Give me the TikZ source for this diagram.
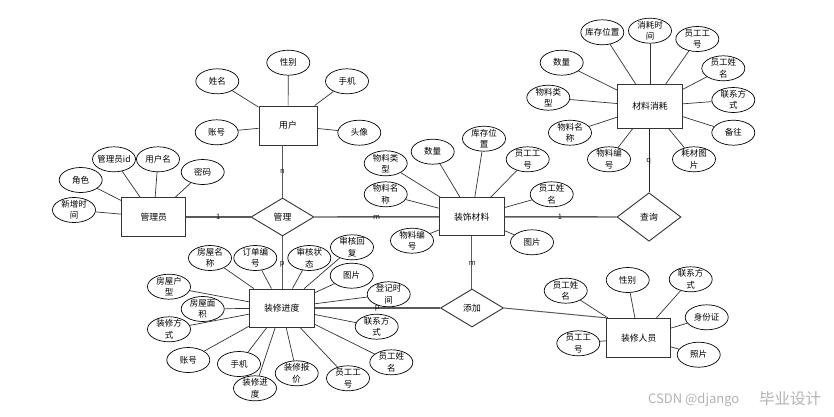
\documentclass[tikz,border=0pt]{standalone}
\usepackage{fontspec}
\setmainfont{Noto Sans CJK SC}
\usetikzlibrary{shapes.geometric}
\begin{document}
\begin{tikzpicture}[x=1pt,y=-1pt,
  ent/.style={draw=black!80, line width=0.9pt, fill=white, minimum width=64pt, minimum height=39pt, inner sep=0pt, font=\fontsize{8.8}{10}\selectfont},
  rel/.style={diamond, draw=black!80, line width=0.9pt, fill=white, minimum width=63pt, minimum height=38pt, inner sep=0pt, font=\fontsize{8.8}{10}\selectfont},
  attr/.style={ellipse, draw=black, line width=0.7pt, fill=white, minimum width=43pt, minimum height=25pt, inner sep=0pt, label={[atxt]center:#1}},
  atxt/.style={align=center, inner sep=0pt, font=\fontsize{8.5}{11.3}\selectfont},
  al/.style={draw=black!80, line width=0.7pt},
  cl/.style={draw=black!65, line width=1.4pt},
  card/.style={font=\fontsize{7.5}{7.5}\selectfont, inner sep=0pt, text=black!90},
  wm/.style={inner sep=0pt, text=black!30}
]
\useasboundingbox (0,0) rectangle (834,416);

% entities
\node[ent, minimum width=58pt] (U) at (288,125.5) {用户};
\node[ent] (A) at (153.7,217) {管理员};
\node[ent, minimum width=65pt, minimum height=38pt] (M) at (471.7,216.8) {装饰材料};
\node[ent, minimum width=65pt, minimum height=44pt] (C) at (650,106.3) {材料消耗};
\node[ent, minimum width=65pt, minimum height=38pt] (P) at (281.7,308) {装修进度};
\node[ent] (W) at (638.7,337.8) {装修人员};

% relations
\node[rel] (R1) at (282.5,217) {管理};
\node[rel, minimum width=64pt, minimum height=48.5pt] (R2) at (649,217) {查询};
\node[rel] (R3) at (472,308) {添加};

% relation connectors
\draw[cl] (A) -- (R1);
\draw[cl] (R1) -- (M);
\draw[cl] (R1.north) -- (R1.north |- U.south);
\draw[cl] (R1.south) -- (R1.south |- P.north);
\draw[cl] (M) -- (R2);
\draw[cl, draw=black!85, line width=0.9pt] (R2.north) -- (R2.north |- C.south);
\draw[cl] (M.south) -- (M.south |- R3.north);
\draw[cl] (P) -- (R3);
\draw[cl, line width=1pt] (R3.east) -- (W.north west);

% cardinalities
\node[card] (k1) at (282.3,171.7) {n};
\node[card] (k2) at (218.3,216.7) {1};
\node[card] (k3) at (376.7,217.3) {m};
\node[card] (k4) at (282.3,264.3) {p};
\node[card] (k5) at (560,217.3) {1};
\node[card] (k6) at (648.7,161.7) {q};
\node[card] (k7) at (472.3,263.3) {m};
\node[card] (k8) at (377.3,308.3) {p};

% 用户 attributes
\node[attr={姓名}] (u1) at (217.3,81.3) {};
\node[attr={性别}] (u2) at (288.3,62.7) {};
\node[attr={手机}] (u3) at (347,81.3) {};
\node[attr={账号}] (u4) at (216.7,132.3) {};
\node[attr={头像}] (u5) at (359.3,132.7) {};
\foreach \i in {1,...,5} \draw[al] (u\i) -- (U);

% 管理员 attributes
\node[attr={管理员id}] (a1) at (114,159.3) {};
\node[attr={用户名}] (a2) at (158,159.3) {};
\node[attr={密码}] (a3) at (202.7,172) {};
\node[attr={角色}] (a4) at (80.7,180) {};
\node[attr={新增时\\间}] (a5) at (74,210) {};
\foreach \i in {1,...,5} \draw[al] (a\i) -- (A);

% 材料消耗 attributes
\node[attr={库存位置}] (c1) at (602.3,32.3) {};
\node[attr={消耗时\\间}] (c2) at (650,30.7) {};
\node[attr={员工工\\号}] (c3) at (697.3,39) {};
\node[attr={员工姓\\名}] (c4) at (723.3,68.3) {};
\node[attr={联系方\\式}] (c5) at (733.3,100) {};
\node[attr={备往}] (c6) at (733.3,132.7) {};
\node[attr={耗材图\\片}] (c7) at (694,159.3) {};
\node[attr={物料编\\号}] (c8) at (609,159.3) {};
\node[attr={物料名\\称}] (c9) at (570,132.7) {};
\node[attr={物料类\\型}] (c10) at (548.3,97.7) {};
\node[attr={数量}] (c11) at (561.7,62.7) {};
\foreach \i in {1,...,11} \draw[al] (c\i) -- (C);

% 装饰材料 attributes
\node[attr={物料类\\型}] (m1) at (385.7,163.3) {};
\node[attr={数量}] (m2) at (432.7,151.7) {};
\node[attr={库存位\\置}] (m3) at (484,138.7) {};
\node[attr={员工工\\号}] (m4) at (527.7,159.3) {};
\node[attr={员工姓\\名}] (m5) at (551.7,194.3) {};
\node[attr={物料名\\称}] (m6) at (385.7,194.3) {};
\node[attr={物料编\\号}] (m7) at (412,240.7) {};
\node[attr={图片}] (m8) at (532,242.3) {};
\foreach \i in {1,...,8} \draw[al] (m\i) -- (M);

% 装修进度 attributes
\node[attr={房屋名\\称}] (p1) at (210,258) {};
\node[attr={订单编\\号}] (p2) at (255.3,258) {};
\node[attr={审核状\\态}] (p3) at (309.3,258) {};
\node[attr={审核回\\复}] (p4) at (352,247.3) {};
\node[attr={图片}] (p5) at (351.7,275.7) {};
\node[attr={登记时\\间}] (p6) at (388.7,294.3) {};
\node[attr={联系方\\式}] (p7) at (376.7,326.7) {};
\node[attr={员工姓\\名}] (p8) at (391.3,362.3) {};
\node[attr={员工工\\号}] (p9) at (348,378.3) {};
\node[attr={装修报\\价}] (p10) at (296.7,373.3) {};
\node[attr={装修进\\度}] (p11) at (255,388.3) {};
\node[attr={手机}] (p12) at (239,364) {};
\node[attr={账号}] (p13) at (188.3,360) {};
\node[attr={装修方\\式}] (p14) at (169,329.3) {};
\node[attr={房屋面\\积}] (p15) at (202.7,309) {};
\node[attr={房屋户\\型}] (p16) at (169,286.7) {};
\foreach \i in {1,...,16} \draw[al] (p\i) -- (P);

% 装修人员 attributes
\node[attr={员工姓\\名}] (w1) at (565.7,290.7) {};
\node[attr={性别}] (w2) at (627.7,280) {};
\node[attr={联系方\\式}] (w3) at (690.7,279.3) {};
\node[attr={身份证}] (w4) at (706.7,317.3) {};
\node[attr={照片}] (w5) at (698.7,354.7) {};
\node[attr={员工工\\号}] (w6) at (578.3,343.3) {};
\foreach \i in {1,...,6} \draw[al] (w\i) -- (W);

% watermark
\node[wm, font=\fontsize{13}{13}\selectfont, anchor=west] (wm1) at (648,400) {CSDN @django};
\node[wm, font=\fontsize{15.5}{15.5}\selectfont, anchor=west] (wm2) at (759,399) {毕业设计};
\end{tikzpicture}
\end{document}
